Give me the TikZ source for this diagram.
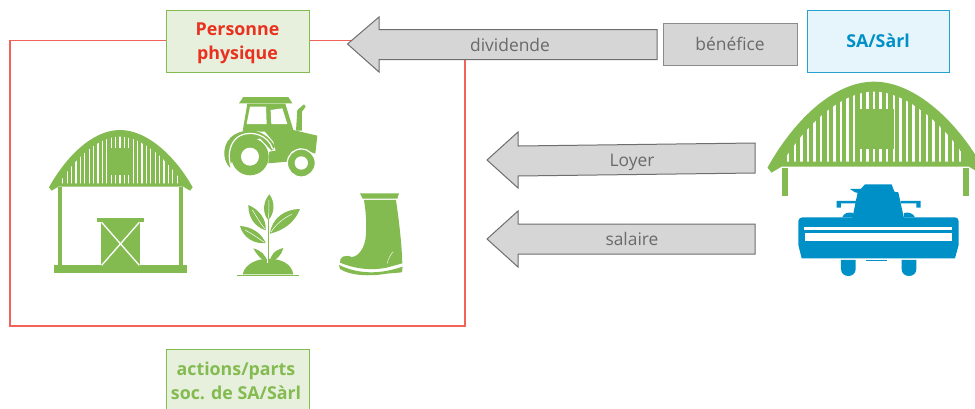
\documentclass[tikz,border=0pt]{standalone}
\usepackage{fontspec}
\setmainfont{Open Sans}
\definecolor{leaf}{HTML}{84BB51}
\definecolor{azure}{HTML}{0090C8}
\definecolor{redtxt}{HTML}{E8311F}
\definecolor{redline}{HTML}{F0625A}
\definecolor{greyfill}{HTML}{D6D6D6}
\definecolor{greyline}{HTML}{6E6E6E}
\definecolor{greytxt}{HTML}{6A6A6A}
\definecolor{greenbox}{HTML}{E7F0DD}
\definecolor{bluebox}{HTML}{E6F4FB}
\tikzset{
  boxbase/.style={draw,line width=1pt,inner sep=0pt,align=center,font=\bfseries\fontsize{17.8}{24}\selectfont,minimum width=143pt},
  greenstyle/.style={boxbase,draw=leaf,fill=greenbox},
  bluestyle/.style={boxbase,draw=azure!85,fill=bluebox,text=azure,minimum width=142pt,minimum height=62pt},
  arrowshape/.style={draw=greyline,fill=greyfill,line width=1pt,line join=miter},
  arrowlabel/.style={text=greytxt,inner sep=0pt,font=\fontsize{17.4}{20}\selectfont}
}
% barn roof, drawn in the zoomed coordinates of the left barn
\newcommand{\BarnRoof}[2]{%
  \fill[leaf] (147,322) .. controls (195,235) and (275,150) .. (360,150)
     .. controls (445,150) and (530,235) .. (578,322) -- (570,332) -- (550,320) -- (175,320) -- (155,332) -- cycle;
  \begin{scope}
    \clip (178,310) .. controls (225,235) and (295,170) .. (360,170)
       .. controls (425,170) and (500,235) .. (548,310) -- cycle;
    \foreach \k in {-13,...,13}{
      \draw[white,line width=#1] ({360+13.2*\k},160) -- ({360+13.2*\k},312);
    }
  \end{scope}
  \fill[leaf] (328,205) rectangle (#2,285);
}
\begin{document}
\begin{tikzpicture}[x=1pt,y=-1pt]
\useasboundingbox (0,0) rectangle (975,408);
\fill[white] (0,0) rectangle (975,408);

% red frame
\draw[redline,line width=1.2pt] (10,40.5) rectangle (465,326);

% boxes
\node[greenstyle,minimum height=62pt] (person) at (237.5,41) {};
\node[text=redtxt,inner sep=0pt,align=center,font=\bfseries\fontsize{17.8}{24}\selectfont] (persontxt) at (237.5,43) {Personne\\physique};
\node[bluestyle] (sa) at (878,41) {SA/Sàrl};
\node[greenstyle,minimum height=64pt,draw=leaf] (shares) at (237.5,381) {};
\node[text=leaf,inner sep=0pt,align=center,font=\bfseries\fontsize{17.8}{24}\selectfont] (sharestxt) at (236,381) {actions/parts\\soc. de SA/Sàrl};
\node[draw=greyline!80,fill=greyfill,line width=1pt,minimum width=134pt,minimum height=42pt,inner sep=0pt,text=greytxt,font=\fontsize{17.4}{20}\selectfont] (benefit) at (730,44) {bénéfice};

% arrows
\draw[arrowshape] (347.5,44) -- (379,17) -- (379,29.5) -- (657,29.5) -- (657,59.5) -- (379,59.5) -- (379,72) -- cycle;
\node[arrowlabel] (dividend) at (510,45) {dividende};
\draw[arrowshape] (487,160) -- (518,132) -- (518,146) -- (755,143) -- (755,173) -- (518,176) -- (518,188) -- cycle;
\node[arrowlabel] (rent) at (632,162) {Loyer};
\draw[arrowshape] (487,239) -- (518,211) -- (518,224) -- (755,224) -- (755,254) -- (518,254) -- (518,267) -- cycle;
\node[arrowlabel] (wage) at (632,238.5) {salaire};

% left barn
\begin{scope}[shift={(0,80)},x=0.3333pt,y=-0.3333pt]
  \BarnRoof{1.3pt}{392}
  \fill[leaf] (174,320) rectangle (187,560);
  \fill[leaf] (537,320) rectangle (549,560);
  \fill[leaf] (162,556) rectangle (560,578);
  \fill[leaf] (291,414) rectangle (432,426);
  \fill[leaf] (303,427) rectangle (420,578);
  \draw[white,line width=1.3pt] (305,427) -- (418,556) (418,427) -- (305,556);
\end{scope}

% tractor, plant, boot
\begin{scope}[shift={(210,85)},x=0.3333pt,y=-0.3333pt]
  % tractor
  \fill[leaf] (87,55) -- (100,36) -- (235,36) -- (247,55) -- cycle;
  \fill[leaf] (112,56) -- (98,138) -- (165,140) -- (190,170) -- (197,197) -- (178,200) -- (175,235) -- (232,230) -- (245,200) -- (270,190) -- (316,206) -- (322,152) -- (250,135) -- (226,56) -- cycle;
  \fill[white] (120,65) -- (168,65) -- (170,117) -- (110,117) -- cycle;
  \fill[white] (182,75) -- (217,70) -- (232,117) -- (184,117) -- cycle;
  \fill[leaf] (258,137) -- (262,75) -- (282,58) -- (287,65) -- (276,80) -- (276,137) -- cycle;
  \fill[leaf] (60,248) .. controls (35,225) and (35,170) .. (75,148) .. controls (110,128) and (165,130) .. (195,185) -- (185,197) -- (150,160) -- (80,180) -- cycle;
  \fill[leaf] (120,215) circle[radius=56];
  \draw[white,line width=1.2pt] (62,243) .. controls (50,200) and (65,165) .. (90,152) .. controls (125,135) and (175,150) .. (188,192);
  \fill[white] (120,215) circle[radius=27];
  \draw[white,line width=1.2pt,fill=leaf] (274,234) circle[radius=42];
  \fill[white] (274,234) circle[radius=20];
  % plant
  \fill[leaf] (98,568) .. controls (105,535) and (145,520) .. (175,522) .. controls (210,520) and (245,535) .. (250,568) -- cycle;
  \draw[leaf,line width=0.9pt] (82,571) -- (268,571);
  \draw[white,line width=2pt] (175,405) -- (175,535);
  \draw[leaf,line width=1.4pt] (175,405) -- (175,535);
  \fill[leaf] (178,328) .. controls (155,355) and (160,390) .. (175,405) .. controls (195,385) and (195,350) .. (178,328) -- cycle;
  \fill[leaf] (115,360) .. controls (115,400) and (135,425) .. (167,436) .. controls (170,405) and (150,375) .. (115,360) -- cycle;
  \fill[leaf] (270,372) .. controls (225,372) and (185,400) .. (180,446) .. controls (225,435) and (255,410) .. (270,372) -- cycle;
  \fill[leaf] (90,423) .. controls (100,460) and (135,478) .. (167,474) .. controls (155,445) and (125,425) .. (90,423) -- cycle;
  \fill[leaf] (130,490) .. controls (140,510) and (155,525) .. (171,532) .. controls (170,510) and (150,495) .. (130,490) -- cycle;
  \fill[leaf] (220,489) .. controls (195,495) and (180,510) .. (180,532) .. controls (200,525) and (215,510) .. (220,489) -- cycle;
  \draw[white,line width=0.5pt] (177,345) -- (176,400) (127,375) .. controls (140,395) and (150,415) .. (165,432) (245,388) .. controls (220,400) and (195,420) .. (183,442) (105,435) .. controls (125,445) and (145,460) .. (163,472);
  % boot
  \fill[leaf] (450,325) -- (567,325) -- (562,341) -- (458,341) -- cycle;
  \fill[leaf] (462,345) -- (558,345) .. controls (566,400) and (575,470) .. (577,535) -- (530,548) .. controls (480,558) and (430,550) .. (390,533) .. controls (388,515) and (405,508) .. (425,516) .. controls (445,515) and (465,490) .. (468,450) .. controls (470,420) and (468,380) .. (462,345) -- cycle;
  \fill[leaf] (387,540) .. controls (430,560) and (490,575) .. (578,545) -- (576,562) -- (530,566) .. controls (480,575) and (420,572) .. (390,552) -- cycle;
  \draw[white,line width=0.4pt] (532,535) .. controls (535,520) and (542,508) .. (550,500);
\end{scope}

% right barn
\begin{scope}[shift={(694,6.67)},x=0.5pt,y=-0.5pt]
  \BarnRoof{2.3pt}{399}
\end{scope}

% right barn posts and harvester
\begin{scope}[shift={(755,75)},x=0.3333pt,y=-0.3333pt]
  \fill[leaf] (82,278) rectangle (100,362);
  \fill[leaf] (625,278) rectangle (642,362);
  % harvester
  \fill[azure] (143,427) -- (600,427) .. controls (606,427) and (611,432) .. (611,438) -- (611,510) -- (600,550) -- (140,550) -- (130,510) -- (130,438) .. controls (130,432) and (136,427) .. (143,427) -- cycle;
  \fill[white] (147,457) rectangle (591,466);
  \fill[white] (149,474) rectangle (590,498);
  \fill[azure] (330,328) -- (410,328) -- (418,350) -- (430,352) -- (447,430) -- (292,430) -- (308,352) -- cycle;
  \fill[azure] (285,342) -- (320,342) -- (316,355) -- (300,352) -- cycle;
  \fill[azure] (245,378) -- (305,378) -- (305,385) -- (258,385) -- (258,398) -- (245,398) -- cycle;
  \fill[azure] (437,378) -- (497,378) -- (497,398) -- (484,398) -- (484,385) -- (437,385) -- cycle;
  \fill[azure] (262,427) .. controls (265,415) and (280,410) .. (295,414) -- (295,427) -- cycle;
  \fill[azure] (447,414) .. controls (460,410) and (475,415) .. (480,427) -- (447,427) -- cycle;
  \fill[azure] (258,555) -- (302,555) -- (302,582) .. controls (302,610) and (258,610) .. (258,582) -- cycle;
  \fill[azure] (440,555) -- (484,555) -- (484,582) .. controls (484,610) and (440,610) .. (440,582) -- cycle;
  \fill[azure] (332,554) rectangle (397,559);
\end{scope}
\end{tikzpicture}
\end{document}
